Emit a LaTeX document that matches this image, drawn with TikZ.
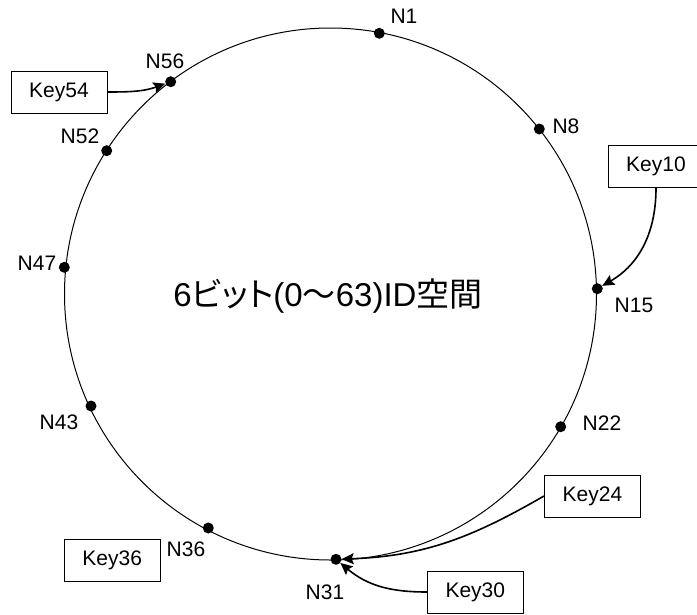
\documentclass[tikz,border=0pt]{standalone}
\usepackage{fontspec}
\setmainfont{Liberation Sans}
\newfontfamily\cjk[RawFeature=+palt]{Noto Sans CJK JP}
\usetikzlibrary{arrows.meta}
\begin{document}
\begin{tikzpicture}[x=1pt,y=-1pt,
  dot/.style={circle,fill=black,inner sep=0pt,minimum size=11pt},
  lbl/.style={font=\fontsize{21}{25}\selectfont,inner sep=0pt},
  keybox/.style={draw,line width=1pt,minimum width=96pt,minimum height=42pt,inner sep=0pt,font=\fontsize{21}{25}\selectfont},
  arr/.style={line width=1.6pt,-{Stealth[length=12pt,width=11pt,inset=2pt]}}]
\useasboundingbox (0,0) rectangle (697,614);
\clip (0,0) rectangle (697,614);
\draw[line width=1pt] (330.5,294) circle[radius=266];
% dots
\node[dot] (n1)  at (379.3,33.3) {};
\node[dot] (n8)  at (539.3,129) {};
\node[dot] (n15) at (597.3,288.7) {};
\node[dot] (n22) at (560.7,426.7) {};
\node[dot] (n31) at (336,559.3) {};
\node[dot] (n36) at (208.3,528) {};
\node[dot] (n43) at (91,406) {};
\node[dot] (n47) at (64.3,267.3) {};
\node[dot] (n52) at (106.7,150.7) {};
\node[dot] (n56) at (170.7,81.7) {};
% labels
\node[lbl] (l1)  at (404,16) {N1};
\node[lbl] (l8)  at (566,126) {N8};
\node[lbl] (l15) at (634,305) {N15};
\node[lbl] (l22) at (602,423) {N22};
\node[lbl] (l31) at (325,592) {N31};
\node[lbl] (l36) at (186,549) {N36};
\node[lbl] (l43) at (59,422) {N43};
\node[lbl] (l47) at (37,263) {N47};
\node[lbl] (l52) at (80,136) {N52};
\node[lbl] (l56) at (165,61) {N56};
% title
\node[inner sep=0pt,font=\fontsize{33}{40}\selectfont] (title) at (328,296) {6{\cjk ビット}(0{\cjk 〜}63)ID{\cjk 空間}};
% key boxes
\node[keybox] (k54) at (59,92) {Key54};
\node[keybox] (k10) at (656,166.5) {Key10};
\node[keybox] (k24) at (592.5,496) {Key24};
\node[keybox] (k30) at (475.3,592) {Key30};
\node[keybox] (k36) at (112.2,560) {Key36};
% arrows
\draw[arr] (k54.east) to[out=0,in=200] (n56);
\draw[arr] (k10.south) to[out=-90,in=30] (n15);
\draw[arr] (k24.west) to[out=210,in=2] (n31);
\draw[arr] (k30.west) to[out=180,in=-40] (n31);
\end{tikzpicture}
\end{document}
